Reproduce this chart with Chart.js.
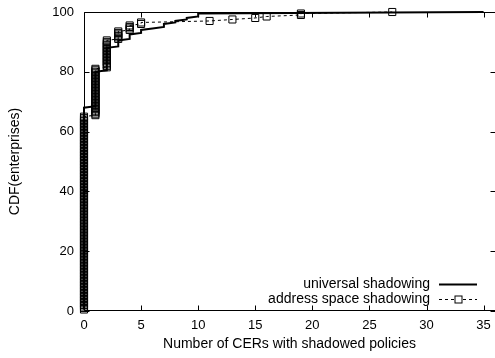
<!DOCTYPE html>
<html>
<head>
<meta charset="utf-8">
<title>CDF of shadowed CERs</title>
<script src="https://cdn.jsdelivr.net/npm/chart.js@4/dist/chart.umd.min.js"></script>
<style>
html, body { margin: 0; padding: 0; background: #fff; }
#wrap { width: 495px; height: 358px; }
</style>
</head>
<body>
<div id="wrap"><canvas id="cdf" width="495" height="358"></canvas></div>
<script>
"use strict";
// enterprises in the study, and how many of them have a given number of CERs
var N_ENTERPRISES = 200;
var univCers = [0, 1, 2, 3, 4, 5, 6, 7, 8, 9, 10, 35];
var univCounts = [136, 24, 16, 5, 4, 3, 1, 3, 2, 2, 3, 1];
var addrCers = [0, 1, 2, 3, 4, 5, 11, 13, 15, 16, 19, 27];
var addrCounts = [130, 32, 19, 6, 4, 2, 1, 1, 1, 1, 2, 1];
var xTicks = [0, 5, 10, 15, 20, 25, 30, 35];
var yTicks = [0, 20, 40, 60, 80, 100];
var seriesNames = ['universal shadowing', 'address space shadowing'];

var FONT = '"Liberation Sans", Arial, Helvetica, sans-serif';
var TICK = 5;

// one point per enterprise, sorted, y = cumulative percentage
function cdfPoints(cers, counts) {
    var pts = [], seen = 0;
    cers.forEach(function (x, i) {
        for (var k = 0; k < counts[i]; k++) {
            seen++;
            pts.push({ x: x, y: seen / N_ENTERPRISES * 100 });
        }
    });
    return pts;
}

// gnuplot style box with inward ticks; right side sits just past the canvas edge
var frame = {
    id: 'frame',
    afterDatasetsDraw: function (chart) {
        var ctx = chart.ctx, a = chart.chartArea;
        var xs = chart.scales.x, ys = chart.scales.y;
        var L = Math.round(a.left) + 0.5, R = Math.round(a.right) + 0.5;
        var T = Math.round(a.top) + 0.5, B = Math.round(a.bottom) - 0.5;
        ctx.save();
        ctx.strokeStyle = '#000';
        ctx.lineWidth = 1;
        ctx.beginPath();
        ctx.rect(L, T, R - L, B - T);
        xTicks.forEach(function (v) {
            var p = Math.round(xs.getPixelForValue(v)) + 0.5;
            ctx.moveTo(p, B); ctx.lineTo(p, B - TICK);
            ctx.moveTo(p, T); ctx.lineTo(p, T + TICK);
        });
        yTicks.forEach(function (v) {
            var p = Math.round(ys.getPixelForValue(v)) + 0.5;
            ctx.moveTo(L, p); ctx.lineTo(L + TICK, p);
            ctx.moveTo(R, p); ctx.lineTo(R - TICK, p);
        });
        ctx.stroke();
        ctx.restore();
    }
};

// key in the lower right corner: text, then line sample
var keyBox = {
    id: 'keyBox',
    afterDraw: function (chart) {
        var ctx = chart.ctx, a = chart.chartArea;
        var tx = a.right - 65, s0 = a.right - 56, s1 = a.right - 18;
        var rows = [a.bottom - 27, a.bottom - 12];
        ctx.save();
        ctx.font = '14px ' + FONT;
        ctx.fillStyle = '#000';
        ctx.textAlign = 'right';
        ctx.textBaseline = 'middle';
        seriesNames.forEach(function (name, i) { ctx.fillText(name, tx, rows[i]); });
        ctx.strokeStyle = '#000';
        ctx.lineWidth = 2;
        ctx.beginPath();
        ctx.moveTo(s0, rows[0] + 0.5); ctx.lineTo(s1, rows[0] + 0.5);
        ctx.stroke();
        ctx.lineWidth = 1;
        ctx.setLineDash([3, 3]);
        ctx.beginPath();
        ctx.moveTo(s0, rows[1] + 0.5); ctx.lineTo(s1, rows[1] + 0.5);
        ctx.stroke();
        ctx.setLineDash([]);
        var m = Math.round((s0 + s1) / 2) + 0.5;
        ctx.fillStyle = '#fff';
        ctx.fillRect(m - 3.5, rows[1] - 3, 7, 7);
        ctx.strokeRect(m - 3.5, rows[1] - 3, 7, 7);
        ctx.restore();
    }
};

Chart.defaults.font.family = FONT;
Chart.defaults.color = '#000';

new Chart(document.getElementById('cdf'), {
    type: 'scatter',
    data: {
        datasets: [{
            label: seriesNames[0],
            data: cdfPoints(univCers, univCounts),
            showLine: true,
            borderColor: '#000',
            borderWidth: 2,
            pointRadius: 0,
            pointHoverRadius: 0,
            clip: 8
        }, {
            label: seriesNames[1],
            data: cdfPoints(addrCers, addrCounts),
            showLine: true,
            borderColor: '#000',
            borderWidth: 1,
            borderDash: [3, 3],
            pointStyle: 'rect',
            pointRadius: 5,
            pointBorderWidth: 1,
            pointBorderColor: '#000',
            pointBackgroundColor: 'rgba(0,0,0,0)',
            clip: 8
        }]
    },
    options: {
        responsive: false,
        devicePixelRatio: 1,
        animation: false,
        layout: { autoPadding: false, padding: { top: 12, right: 0, left: 0, bottom: 0 } },
        plugins: { legend: { display: false }, tooltip: { enabled: false } },
        scales: {
            x: {
                type: 'linear', min: 0, max: 36,
                grid: { display: false, drawTicks: false },
                border: { display: false },
                afterBuildTicks: function (s) { s.ticks = xTicks.map(function (v) { return { value: v }; }); },
                afterFit: function (s) { s.height = 47; s.paddingLeft = 0; s.paddingRight = 0; },
                ticks: { font: { size: 13 }, padding: 7, maxRotation: 0 },
                title: { display: true, text: 'Number of CERs with shadowed policies', font: { size: 14 }, padding: { top: 0, bottom: 5 } }
            },
            y: {
                type: 'linear', min: 0, max: 100,
                grid: { display: false, drawTicks: false },
                border: { display: false },
                afterBuildTicks: function (s) { s.ticks = yTicks.map(function (v) { return { value: v }; }); },
                afterFit: function (s) { s.width = 84; s.paddingTop = 0; s.paddingBottom = 0; },
                ticks: { font: { size: 13 }, padding: 10 },
                title: { display: true, text: 'CDF(enterprises)', font: { size: 14 }, padding: { top: 7, bottom: 0 } }
            }
        }
    },
    plugins: [frame, keyBox]
});
</script>
</body>
</html>
